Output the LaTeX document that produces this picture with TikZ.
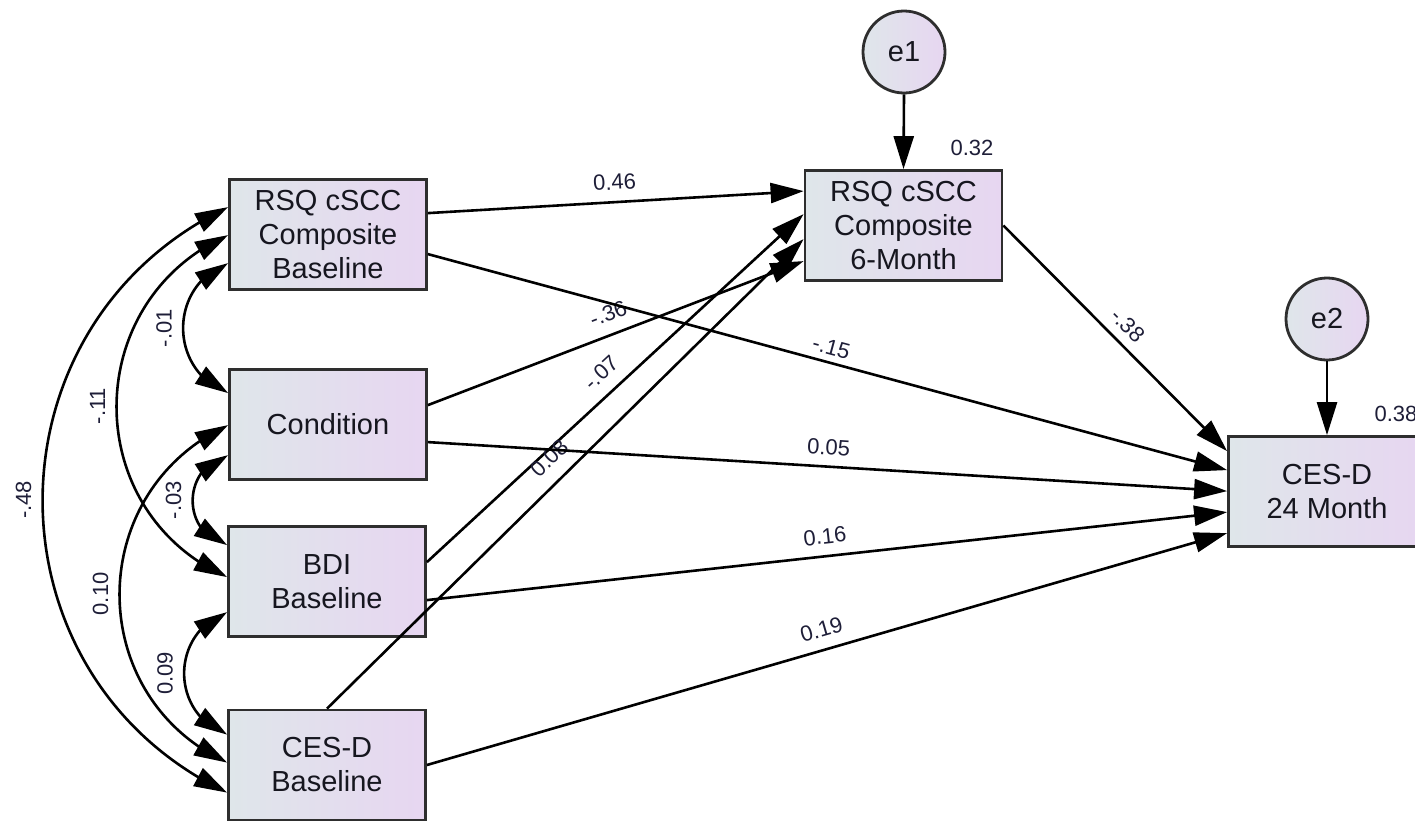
\documentclass[tikz,border=0pt]{standalone}
\usepackage{fontspec}
\setmainfont{Liberation Sans}
\usetikzlibrary{arrows.meta,bending,calc}

\definecolor{boxL}{HTML}{DFE6EA}
\definecolor{boxR}{HTML}{E7D6F1}
\definecolor{frame}{HTML}{2E2E2E}
\definecolor{txt}{HTML}{16161F}
\definecolor{coeftxt}{HTML}{1E1E38}

\tikzset{
  var/.style={draw=frame, line width=2.8pt, left color=boxL, right color=boxR,
    minimum width=197pt, minimum height=110pt, inner sep=0pt, align=center,
    text=txt, font=\fontsize{29}{34}\selectfont},
  err/.style={circle, draw=frame, line width=2.8pt, left color=boxL, right color=boxR,
    minimum size=82pt, inner sep=0pt, text=txt, font=\fontsize{29}{34}\selectfont},
  regr/.style={line width=2.6pt, -{Triangle[length=33pt,width=20pt]}},
  cov/.style={line width=2.6pt, {Triangle[length=33pt,width=20pt]}-{Triangle[length=33pt,width=20pt]}},
  coef/.style={text=coeftxt, inner sep=1pt, font=\fontsize{22}{26}\selectfont},
}

\begin{document}
\begin{tikzpicture}[x=1pt,y=-1pt]
\clip (0,0) rectangle (1415,822);

% observed variables
\node[var] (rsqb)  at (328,234.5)   {RSQ cSCC\\Composite\\Baseline};
\node[var] (cond)  at (328,424.5)   {Condition};
\node[var] (bdi)   at (327,581.5)   {BDI\\Baseline};
\node[var] (cesb)  at (327,765)     {CES-D\\Baseline};
\node[var] (rsq6)  at (903.5,225.5) {RSQ cSCC\\Composite\\6-Month};
\node[var] (ces24) at (1327,491.5)  {CES-D\\24 Month};

% residuals
\node[err] (e1) at (904,52)  {e1};
\node[err] (e2) at (1327,319) {e2};

% squared multiple correlations
\node[coef] (r2a) at (972,148)  {0.32};
\node[coef] (r2b) at (1396,414) {0.38};

% residual paths
\draw[regr] (e1.south) -- (rsq6.north);
\draw[regr] (e2.south) -- (ces24.north);

% regression paths to the 6-month composite
\draw[regr] ($(rsqb.north east)+(0,35)$) -- node[coef, midway, sloped, above=10pt] {0.46} ($(rsq6.north west)+(0,22)$);
\draw[regr] ($(cond.north east)+(0,37)$) -- node[coef, midway, sloped, above=11pt] {-.36} ($(rsq6.north west)+(0,92)$);
\draw[regr] ($(bdi.north east)+(0,37)$) -- node[coef, midway, sloped, above=11pt] {-.07} ($(rsq6.north west)+(0,45)$);
\draw[regr] (cesb.north) -- node[coef, midway, sloped, above=12pt] {0.08} ($(rsq6.north west)+(0,70)$);

% regression paths to CES-D at 24 months
\draw[regr] (rsq6.east) -- node[coef, midway, sloped, above=8pt] {-.38} ($(ces24.north west)+(0,16)$);
\draw[regr] ($(rsqb.north east)+(0,76)$) -- node[coef, midway, sloped, above=5pt] {-.15} ($(ces24.north west)+(0,35)$);
\draw[regr] ($(cond.north east)+(0,74)$) -- node[coef, midway, sloped, above=9pt] {0.05} ($(ces24.north west)+(0,56)$);
\draw[regr] ($(bdi.north east)+(0,75)$) -- node[coef, midway, sloped, above=10pt] {0.16} ($(ces24.north west)+(0,77)$);
\draw[regr] (cesb.east) -- node[coef, midway, sloped, above=10pt] {0.19} ($(ces24.north west)+(0,98)$);

% covariances among the baseline variables
\draw[cov] ($(cond.north west)+(0,25)$) .. controls +(-60.0,-22.6) and +(-60.0,22.6) .. coordinate[pos=0.5] (m1) ($(rsqb.north west)+(0,85)$);
\draw[cov] ($(bdi.north west)+(0,52)$) .. controls +(-148.1,-65.9) and +(-148.1,65.9) .. coordinate[pos=0.5] (m2) ($(rsqb.north west)+(0,57)$);
\draw[cov] ($(cesb.north west)+(0,84)$) .. controls +(-246.7,-117.4) and +(-246.7,117.4) .. coordinate[pos=0.5] (m3) ($(rsqb.north west)+(0,29)$);
\draw[cov] ($(cesb.north west)+(0,54)$) .. controls +(-144.1,-66.6) and +(-144.1,66.6) .. coordinate[pos=0.5] (m4) ($(cond.north west)+(0,57)$);
\draw[cov] ($(bdi.north west)+(0,20)$) .. controls +(-46.6,-11.9) and +(-46.6,11.9) .. coordinate[pos=0.5] (m5) ($(cond.north west)+(0,87)$);
\draw[cov] ($(cesb.north west)+(0,26)$) .. controls +(-57.3,-21.0) and +(-57.3,21.0) .. coordinate[pos=0.5] (m6) ($(bdi.north west)+(0,87)$);

\node[coef, rotate=90] (c1) at ([xshift=-19pt]m1) {-.01};
\node[coef, rotate=90] (c2) at ([xshift=-19pt]m2) {-.11};
\node[coef, rotate=90] (c3) at ([xshift=-19pt]m3) {-.48};
\node[coef, rotate=90] (c4) at ([xshift=-19pt]m4) {0.10};
\node[coef, rotate=90] (c5) at ([xshift=-19pt]m5) {-.03};
\node[coef, rotate=90] (c6) at ([xshift=-19pt]m6) {0.09};
\end{tikzpicture}
\end{document}
